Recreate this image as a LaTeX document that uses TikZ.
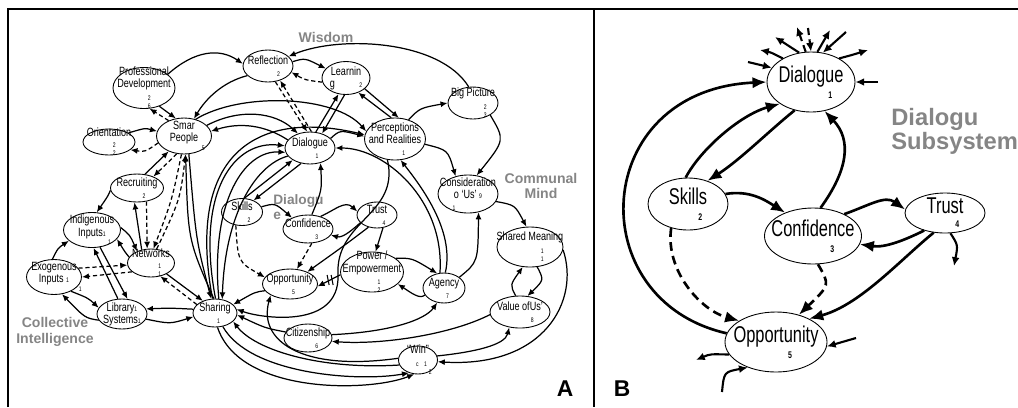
\documentclass[tikz,border=0pt]{standalone}
\usepackage{fontspec}
\setmainfont{Liberation Sans}
\newfontfamily\nsf[FakeStretch=0.76]{Liberation Sans}
\newfontfamily\rsf[FakeStretch=0.72]{Liberation Sans}
\usetikzlibrary{shapes.geometric,arrows.meta,positioning,calc}
\newcommand\nm[1]{{\fontsize{3.8}{4}\selectfont #1}}
\newcommand\bnm[1]{{\bfseries\fontsize{5.5}{6}\selectfont #1}}

\begin{document}
\begin{tikzpicture}[x=0.02cm,y=-0.02cm,
  st/.style={draw,ellipse,line width=0.5pt,inner sep=0pt},
  sz/.style 2 args={minimum width=#1*0.02cm,minimum height=#2*0.02cm},
  lab/.style={font=\nsf\fontsize{6.8}{6.9}\selectfont,align=center,inner sep=0pt},
  rlab/.style={font=\rsf\fontsize{13}{12}\selectfont,align=center,inner sep=0pt},
  grp/.style={font=\bfseries\fontsize{8}{9}\selectfont,text=black!48,align=center,inner sep=0pt},
  arr/.style={-{Latex[length=4pt,width=3.4pt]},line width=0.7pt},
  dsh/.style={arr,dash pattern=on 2.4pt off 1.6pt},
  barr/.style={-{Latex[length=8pt,width=6.5pt]},line width=1.5pt},
  bdsh/.style={barr,dash pattern=on 5pt off 3pt},
  sarr/.style={-{Latex[length=5pt,width=4.5pt]},line width=1.2pt}]
  \useasboundingbox (0,0) rectangle (1018,407);
  \draw[line width=0.8pt] (8,407) -- (8,9) -- (1018,9);
  \draw[line width=0.8pt] (594,9) -- (594,407);

  % panel A
  \node[st,sz={62}{41},label={[lab]center:{Professional\\Development\\\hspace*{6pt}\nm{2}\\[-2pt]\hspace*{6pt}\nm{6}}}] (prof) at (144,88) {};
  \node[st,sz={55}{36},label={[lab]center:{Smar\\People\\[-2pt]\hspace*{22pt}\nm{5}}}] (smart) at (184,136) {};
  \node[st,sz={52}{26},label={[lab]center:{Orientation\\[-1pt]\hspace*{6pt}\nm{2}\\[-2pt]\hspace*{6pt}\nm{2}}}] (orie) at (109,142) {};
  \node[st,sz={53}{28},label={[lab]center:{Recruiting\\\hspace*{8pt}\nm{2}}}] (recr) at (137,188) {};
  \node[st,sz={57}{35},label={[lab]center:{Indigenous\\Inputs\nm{1}\\[-2pt]\hspace*{20pt}\nm{1}}}] (indg) at (92,230) {};
  \node[st,sz={55}{35},label={[lab]center:{Exogenous\\Inputs \nm{1}\\[-2pt]\hspace*{30pt}\nm{1}}}] (exog) at (54,277) {};
  \node[st,sz={47}{28},label={[lab]center:{Networks\\[-1pt]\hspace*{10pt}\nm{1}\\[-2pt]\hspace*{10pt}\nm{1}}}] (netw) at (151,263) {};
  \node[st,sz={50}{30},label={[lab]center:{Library\nm{1}\\Systems\nm{1}}}] (libr) at (122,314) {};
  \node[st,sz={44}{28},label={[lab]center:{Sharing\\\hspace*{4pt}\nm{1}}}] (shar) at (215,313) {};
  \node[st,sz={50}{32},label={[lab]center:{Reflection\\\hspace*{12pt}\nm{2}}}] (refl) at (268,66) {};
  \node[st,sz={48}{33},label={[lab]center:{Learnin\\g\hspace*{14pt}\nm{2}}}] (learn) at (346,78) {};
  \node[st,sz={50}{32},label={[lab]center:{Big Picture\\\hspace*{14pt}\nm{2}\\[-2pt]\hspace*{14pt}\nm{3}}}] (bigp) at (473,103) {};
  \node[st,sz={61}{42},label={[lab]center:{Perceptions\\and Realities\\\hspace*{10pt}\nm{1}}}] (perc) at (395,139) {};
  \node[st,sz={50}{32},label={[lab]center:{Dialogue\\\hspace*{8pt}\nm{1}}}] (dlgA) at (310,148) {};
  \node[st,sz={60}{38},label={[lab]center:{Consideration\\o ‘Us’ \nm{9}\\\hspace*{-16pt}\nm{1}}}] (cons) at (468,194) {};
  \node[st,sz={66}{40},label={[lab]center:{Shared Meaning\\\hspace*{14pt}\nm{1}\\[-2pt]\hspace*{14pt}\nm{1}}}] (shm) at (530,247) {};
  \node[st,sz={60}{32},label={[lab]center:{Value ofUs’\\\hspace*{14pt}\nm{8}}}] (vous) at (520,312) {};
  \node[st,sz={42}{30},label={[lab]center:{Agency\\\hspace*{4pt}\nm{7}}}] (agcy) at (444,288) {};
  \node[st,sz={63}{40},label={[lab]center:{Power /\\Empowerment\\\hspace*{8pt}\nm{1}\\[-2pt]\hspace*{8pt}\nm{2}}}] (powr) at (372,272) {};
  \node[st,sz={40}{26},label={[lab]center:{Trust\\\hspace*{8pt}\nm{4}}}] (trstA) at (377,215) {};
  \node[st,sz={50}{28},label={[lab]center:{Confidence\\\hspace*{10pt}\nm{3}}}] (confA) at (308,229) {};
  \node[st,sz={41}{27},label={[lab]center:{Skills\\\hspace*{8pt}\nm{2}}}] (sklA) at (242,212) {};
  \node[st,sz={55}{30},label={[lab]center:{Opportunity\\\hspace*{4pt}\nm{5}}}] (oppA) at (290,284) {};
  \node[st,sz={48}{28},label={[lab]center:{Citizenship\\\hspace*{10pt}\nm{6}}}] (citz) at (308,338) {};
  \node[st,sz={39}{28},label={[lab]center:{“Win”\\\hspace*{4pt}\nm{c}\hspace*{3pt}\nm{1}\\[-2pt]\hspace*{14pt}\nm{2}}}] (win) at (418,360) {};

  \node[grp] (wisd) at (326,37) {Wisdom};
  \node[grp] (comm) at (541,186) {Communal\\Mind};
  \node[grp] (coll) at (55,332) {Collective\\Intelligence};
  \node[grp,font=\bfseries\fontsize{7.8}{8.4}\selectfont,anchor=west,align=left] (dsubA) at (273,207) {Dialogu\\e};

  \draw[arr] (prof.30) .. controls (195,50) and (220,48) .. (refl.175);
  \draw[arr] (refl.205) .. controls (222,82) and (205,100) .. (smart.60);
  \draw[arr] (prof.-50) -- (smart.115);
  \draw[dsh] (smart.135) -- (prof.-75);
  \draw[arr] (orie.25) .. controls (145,128) .. (smart.170);
  \draw[dsh] (smart.195) .. controls (145,152) .. (orie.-20);
  \draw[arr] (recr.60) -- (smart.225);
  \draw[dsh] (smart.248) -- (recr.35);
  \draw[dsh] (smart.262) .. controls (172,200) .. (netw.80);
  \draw[dsh] (netw.68) .. controls (180,200) .. (smart.275);
  \draw[dsh] (recr.-55) -- (netw.105);
  \draw[arr] (netw.125) -- (recr.-100);
  \draw[arr] (recr.185) .. controls (108,196) .. (indg.75);
  \draw[arr] (indg.5) .. controls (130,235) .. (netw.140);
  \draw[arr] (netw.165) .. controls (125,252) .. (indg.-20);
  \draw[arr] (exog.95) .. controls (58,248) .. (indg.205);
  \draw[dsh] (exog.20) -- (netw.185);
  \draw[dsh] (netw.205) -- (exog.0);
  \draw[arr] (indg.-65) -- (libr.70);
  \draw[arr] (libr.105) -- (indg.-85);
  \draw[arr] (exog.-40) .. controls (88,298) .. (libr.165);
  \draw[arr] (libr.195) .. controls (85,318) .. (exog.-65);
  \draw[arr] (shar.170) .. controls (170,308) .. (libr.12);
  \draw[arr] (libr.-12) .. controls (170,324) .. (shar.190);
  \draw[arr] (netw.-35) -- (shar.135);
  \draw[dsh] (shar.155) -- (netw.-55);
  \draw[arr] (smart.-75) .. controls (196,240) .. (shar.105);
  \draw[arr] (shar.95) .. controls (188,240) .. (smart.-85);
  \draw[arr] (smart.25) .. controls (240,108) and (275,112) .. (dlgA.130);
  \draw[arr] (dlgA.160) .. controls (265,125) and (240,122) .. (smart.10);
  \draw[arr] (smart.55) .. controls (240,92) and (335,95) .. (perc.165);
  \draw[arr] (shar.88) .. controls (195,190) and (235,140) .. (dlgA.175);
  \draw[arr] (shar.75) .. controls (210,200) and (245,150) .. (dlgA.190);
  \draw[arr] (dlgA.200) .. controls (255,165) and (225,215) .. (shar.62);
  \draw[arr] (shar.100) .. controls (185,150) and (260,110) .. (perc.172);
  \draw[arr] (oppA.195) .. controls (255,292) .. (shar.25);
  \draw[arr] (citz.165) .. controls (265,328) .. (shar.-5);
  \draw[arr] (shar.-60) .. controls (250,375) and (360,382) .. (win.-125);
  \draw[arr] (shar.-80) .. controls (240,395) and (370,392) .. (win.-105);
  \draw[arr] (win.195) .. controls (320,370) and (255,350) .. (shar.-25);
  \draw[arr] (win.175) .. controls (300,372) and (258,340) .. (oppA.210);
  \draw[arr] (perc.-110) .. controls (400,215) and (335,220) .. (338,275)
    .. controls (340,330) and (260,318) .. (shar.10);
  \draw[arr] (powr.185) -- coordinate[pos=0.45] (dly) (oppA.-5);
  \draw[line width=0.6pt] ($(dly)+(-3,-5)$) -- ($(dly)+(-1,5)$);
  \draw[line width=0.6pt] ($(dly)+(1,-5)$) -- ($(dly)+(3,5)$);
  \draw[arr] (powr.30) .. controls (412,258) .. (agcy.115);
  \draw[arr] (agcy.200) .. controls (420,300) and (410,292) .. (powr.-25);
  \draw[arr] (trstA.-65) -- (powr.80);
  \draw[arr] (confA.45) .. controls (335,210) and (345,200) .. (trstA.170);
  \draw[arr] (trstA.205) .. controls (350,232) and (342,238) .. (confA.-15);
  \draw[arr] (trstA.235) .. controls (345,245) .. (oppA.35);
  \draw[dsh] (confA.-75) -- (oppA.65);
  \draw[dsh] (sklA.-115) .. controls (238,262) .. (oppA.165);
  \draw[arr] (sklA.15) .. controls (275,203) .. (confA.145);
  \draw[arr] (sklA.80) -- (dlgA.215);
  \draw[arr] (dlgA.240) -- (sklA.45);
  \draw[arr] (confA.75) .. controls (322,190) .. (dlgA.-55);
  \draw[arr] (agcy.105) .. controls (445,200) and (385,148) .. (dlgA.0);
  \draw[arr] (agcy.85) .. controls (455,230) and (420,185) .. (perc.-75);
  \draw[arr] (agcy.35) .. controls (478,262) .. (cons.-60);
  \draw[arr] (perc.-10) .. controls (448,150) .. (cons.125);
  \draw[arr] (bigp.-35) .. controls (505,140) .. (cons.65);
  \draw[arr] (perc.55) .. controls (420,108) .. (bigp.180);
  \draw[arr] (bigp.105) .. controls (440,40) and (340,35) .. (refl.25);
  \draw[arr] (refl.10) .. controls (305,58) .. (learn.155);
  \draw[dsh] (learn.190) .. controls (305,80) .. (refl.-15);
  \draw[dsh] (refl.-65) -- (dlgA.100);
  \draw[dsh] (dlgA.85) -- (refl.-50);
  \draw[arr] (dlgA.70) -- (learn.-115);
  \draw[arr] (learn.-95) -- (dlgA.50);
  \draw[arr] (learn.-30) -- (perc.80);
  \draw[arr] (perc.100) -- (learn.-50);
  \draw[arr] (dlgA.25) .. controls (340,130) .. (perc.175);
  \draw[arr] (cons.-15) .. controls (515,205) .. (shm.100);
  \draw[arr] (shm.-70) .. controls (544,280) .. (vous.65);
  \draw[arr] (vous.105) .. controls (510,285) .. (shm.-110);
  \draw[arr] (shm.-5) .. controls (580,300) and (545,368) .. (win.-5);
  \draw[arr] (vous.185) .. controls (450,335) and (380,345) .. (citz.-8);
  \draw[arr] (citz.8) .. controls (390,332) and (425,320) .. (agcy.-115);
  \draw[arr] (win.12) .. controls (475,352) and (505,345) .. (vous.-125);

  \node[font=\bfseries\fontsize{13}{13}\selectfont] (lblA) at (565,389) {A};
  \node[font=\bfseries\fontsize{13}{13}\selectfont] (lblB) at (622,389) {B};

  % panel B
  \node[st,sz={88}{60},label={[rlab]center:{Dialogue\\[-3pt]\hspace*{22pt}\bnm{1}}}] (dlgB) at (811,82) {};
  \node[st,sz={80}{52},label={[rlab]center:{Skills\\[-3pt]\hspace*{14pt}\bnm{2}}}] (sklB) at (688,204) {};
  \node[st,sz={97}{56},label={[rlab]center:{Confidence\\[-3pt]\hspace*{22pt}\bnm{3}}}] (confB) at (813,236) {};
  \node[st,sz={80}{40},label={[rlab]center:{Trust\\[-4pt]\hspace*{14pt}\bnm{4}}}] (trstB) at (945,213) {};
  \node[st,sz={102}{60},label={[rlab]center:{Opportunity\\[-3pt]\hspace*{16pt}\bnm{5}}}] (oppB) at (776,342) {};
  \node[grp,font=\bfseries\fontsize{13.5}{13.8}\selectfont,anchor=west,align=left] (dsubB) at (891,131) {Dialogu\\Subsystem};

  \draw[barr] (oppB.170) .. controls (580,300) and (590,90) .. (dlgB.180);
  \draw[barr] (sklB.95) .. controls (700,150) and (740,115) .. (dlgB.215);
  \draw[barr] (dlgB.240) .. controls (770,130) and (740,160) .. (sklB.50);
  \draw[barr] (sklB.15) .. controls (750,190) and (765,200) .. (confB.140);
  \draw[barr] (confB.75) .. controls (848,170) and (852,140) .. (dlgB.-65);
  \draw[barr] (confB.35) .. controls (870,205) and (885,195) .. (trstB.175);
  \draw[barr] (trstB.220) .. controls (905,240) and (885,248) .. (confB.-10);
  \draw[barr] (trstB.240) .. controls (900,260) and (860,305) .. (oppB.35);
  \draw[bdsh] (sklB.-125) .. controls (665,270) and (700,310) .. (oppB.150);
  \draw[bdsh] (confB.-80) .. controls (830,285) .. (oppB.50);

  \coordinate (s1) at (775,37);
  \coordinate (s2) at (797,27);
  \coordinate (s3) at (808,28);
  \coordinate (s4) at (830,30);
  \coordinate (s5) at (846,32);
  \coordinate (s6) at (868,50);
  \coordinate (s7) at (760,50);
  \coordinate (s8) at (748,62);
  \coordinate (s9) at (878,82);
  \coordinate (o1) at (856,338);
  \coordinate (o2) at (696,360);
  \coordinate (o3) at (722,392);
  \coordinate (t1) at (954,266);
  \draw[sarr] (dlgB.112) -- (s1);
  \draw[sarr,dash pattern=on 4pt off 2.5pt] (dlgB.100) -- (s2);
  \draw[sarr,dash pattern=on 4pt off 2.5pt] (s3) -- (dlgB.90);
  \draw[sarr] (dlgB.78) -- (s4);
  \draw[sarr] (s5) -- (dlgB.68);
  \draw[sarr] (dlgB.40) .. controls (852,55) .. (s6);
  \draw[sarr] (dlgB.140) .. controls (770,52) .. (s7);
  \draw[sarr] (s8) -- (dlgB.160);
  \draw[sarr] (s9) -- (dlgB.east);
  \draw[sarr] (o1) -- (oppB.-5);
  \draw[sarr] (oppB.195) .. controls (710,354) .. (o2);
  \draw[sarr] (o3) .. controls (724,372) .. (oppB.222);
  \draw[sarr] (trstB.-75) .. controls (958,245) .. (t1);
\end{tikzpicture}
\end{document}
